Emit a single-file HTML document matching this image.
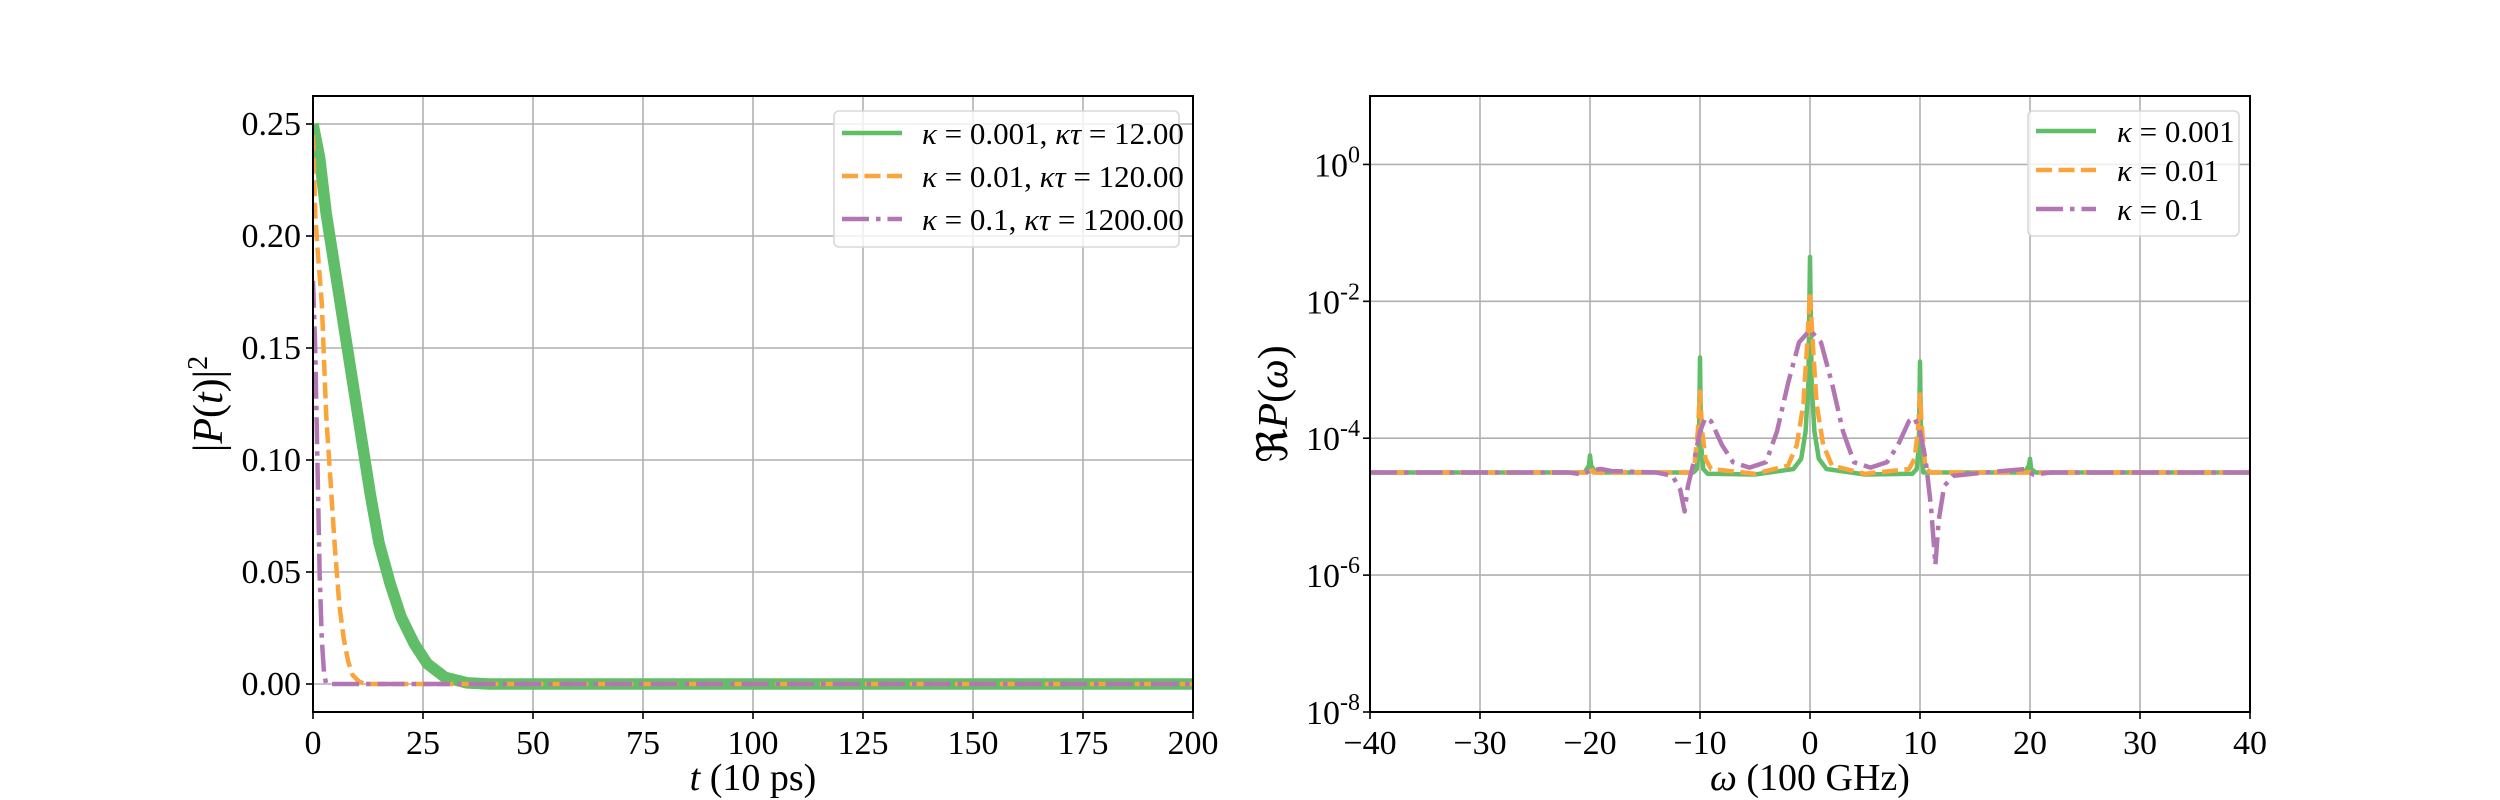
<!DOCTYPE html>
<html><head><meta charset="utf-8"><style>
html,body{margin:0;padding:0;background:#fff;}
svg{display:block;font-family:"Liberation Serif","DejaVu Serif",serif;}
</style></head><body>
<svg id="fig" width="2500" height="800" viewBox="0 0 2500 800" xmlns="http://www.w3.org/2000/svg"></svg>
<script>
// ---- Left chart data ----
const tTicks = [0,25,50,75,100,125,150,175,200];
const pTicks = [0.00,0.05,0.10,0.15,0.20,0.25];
const pTickLabels = ["0.00","0.05","0.10","0.15","0.20","0.25"];
const greenT = [0,1.5,3,5,7,9,11,13,15,17.5,20,23,26,30,35,40,200];
const greenP = [0.25,0.235,0.21,0.185,0.16,0.135,0.11,0.085,0.063,0.045,0.03,0.018,0.009,0.003,0.0005,0,0];
const orangeT = [0,0.5,1,2,3,4,5,6,7,8,9,10.5,12,200];
const orangeP = [0.245,0.21,0.195,0.17,0.12,0.09,0.06,0.035,0.02,0.01,0.004,0.001,0,0];
const purpleT = [0,0.5,1,1.5,2,2.5,3,200];
const purpleP = [0.18,0.15,0.1,0.05,0.02,0.005,0,0];
const leftLegend = ["0.001","0.01","0.1"];
const leftLegendTau = ["12.00","120.00","1200.00"];
// ---- Right chart data (log10 values) ----
const wTicks = [-40,-30,-20,-10,0,10,20,30,40];
const logTicks = [0,-2,-4,-6,-8];
const greenW = [-40,-20.5,-20.1,-20,-19.9,-19.5,-10.6,-10.3,-10.1,-10,-9.9,-9.7,-9.3,-5,-1.5,-0.8,-0.4,-0.15,0,0.15,0.4,0.8,1.5,5,9.3,9.7,9.9,10,10.1,10.3,19.5,19.9,20,20.1,20.5,40];
const greenL = [-4.5,-4.5,-4.4,-4.25,-4.4,-4.5,-4.5,-4.45,-4.1,-2.82,-4.1,-4.45,-4.52,-4.53,-4.45,-4.3,-3.9,-3.2,-1.35,-3.2,-3.9,-4.3,-4.45,-4.53,-4.52,-4.45,-4.1,-2.88,-4.1,-4.5,-4.5,-4.4,-4.3,-4.45,-4.5,-4.5];
const orangeW = [-40,-20.3,-20,-19.7,-10.8,-10.5,-10.2,-10,-9.8,-9.5,-9,-5,-2,-1.2,-0.6,-0.25,0,0.25,0.6,1.2,2,5,9,9.5,9.8,10,10.2,10.5,11,40];
const orangeL = [-4.5,-4.5,-4.42,-4.5,-4.5,-4.4,-3.9,-3.32,-3.9,-4.3,-4.45,-4.52,-4.4,-4.1,-3.5,-2.6,-1.88,-2.6,-3.5,-4.1,-4.4,-4.52,-4.45,-4.3,-3.9,-3.36,-3.9,-4.45,-4.5,-4.5];
const purpleW = [-40,-22,-20.6,-20,-19,-18,-14,-12.5,-11.8,-11.4,-11.1,-10.5,-10,-9.5,-9,-8,-7,-5.5,-4,-3,-2,-1,0,1,2,3,4,5.5,7,8,9,9.5,10,10.5,11,11.4,11.7,12.2,13,16,19.5,20.3,22,40];
const purpleL = [-4.5,-4.5,-4.53,-4.47,-4.45,-4.48,-4.5,-4.55,-4.75,-5.07,-4.7,-4.3,-3.9,-3.7,-3.75,-4.1,-4.35,-4.43,-4.35,-3.9,-3.2,-2.6,-2.42,-2.6,-3.2,-3.9,-4.35,-4.43,-4.35,-4.1,-3.75,-3.7,-3.9,-4.3,-5.0,-5.85,-5.2,-4.7,-4.55,-4.5,-4.45,-4.53,-4.5,-4.5];
const rightLegend = ["0.001","0.01","0.1"];

const NS = "http://www.w3.org/2000/svg";
const svg = document.getElementById('fig');
function mk(tag, attrs, parent){const e=document.createElementNS(NS,tag);for(const k in attrs)e.setAttribute(k,attrs[k]);(parent||svg).appendChild(e);return e;}
const COL = {g:"#60bd68", o:"#faa43a", p:"#b276b2"};
const LW = 4.5;
const DASH = {g:"none", o:"16 6.5", p:"27 7 4.5 7"};

const L = {x0:313, x1:1193, y0:96, y1:712};
const lx = t => L.x0 + (t-0)/(200-0)*(L.x1-L.x0);
const ly = v => L.y1 - (v-(-0.0125))/(0.2625-(-0.0125))*(L.y1-L.y0);
const R = {x0:1370, x1:2250, y0:96, y1:712};
const rx = w => R.x0 + (w+40)/80*(R.x1-R.x0);
const ry = l => R.y1 - (l-(-8))/(1-(-8))*(R.y1-R.y0);

function grid(ax, xs, ys, fx, fy, name){
  const g = mk('g',{});
  
  
  xs.forEach(v=>{mk('line',{x1:fx(v),x2:fx(v),y1:ax.y0,y2:ax.y1,stroke:"#b0b0b0","stroke-width":1.6},g);});
  ys.forEach(v=>{mk('line',{x1:ax.x0,x2:ax.x1,y1:fy(v),y2:fy(v),stroke:"#b0b0b0","stroke-width":1.6},g);});
}
grid(L,tTicks,pTicks,lx,ly,'left-grid');
grid(R,wTicks,logTicks,rx,ry,'right-grid');

function clip(id, ax){const c=mk('clipPath',{id:id});mk('rect',{x:ax.x0,y:ax.y0,width:ax.x1-ax.x0,height:ax.y1-ax.y0},c);}
clip('cl',L); clip('cr',R);

function series(xs, ys, fx, fy, key, name, clipId, extraW){
  const d = xs.map((x,i)=>(i?'L':'M')+fx(x).toFixed(2)+' '+fy(ys[i]).toFixed(2)).join(' ');
  const p = mk('path',{d:d,fill:"none",stroke:COL[key],"stroke-width":LW+(extraW||0),"stroke-dasharray":DASH[key],"stroke-linejoin":"round","clip-path":"url(#"+clipId+")"});
  
  
}
series(greenT,greenP,lx,ly,'g','line-kappa-0001-left','cl',7);
series(orangeT,orangeP,lx,ly,'o','line-kappa-001-left','cl');
series(purpleT,purpleP,lx,ly,'p','line-kappa-01-left','cl');
series(greenW,greenL,rx,ry,'g','line-kappa-0001-right','cr');
series(orangeW,orangeL,rx,ry,'o','line-kappa-001-right','cr');
series(purpleW,purpleL,rx,ry,'p','line-kappa-01-right','cr');

[[L,'left-axes-frame'],[R,'right-axes-frame']].forEach(([a,n])=>{
  const r=mk('rect',{x:a.x0,y:a.y0,width:a.x1-a.x0,height:a.y1-a.y0,fill:"none",stroke:"#000","stroke-width":2});
  
  
});

const FS = 34;
tTicks.forEach(v=>{
  mk('line',{x1:lx(v),x2:lx(v),y1:L.y1,y2:L.y1+7,stroke:"#000","stroke-width":1.6});
  const t=mk('text',{x:lx(v),y:L.y1+42,"font-size":FS,"text-anchor":"middle"});t.textContent=v;
  
  
});
pTicks.forEach((v,i)=>{
  mk('line',{x1:L.x0-7,x2:L.x0,y1:ly(v),y2:ly(v),stroke:"#000","stroke-width":1.6});
  const t=mk('text',{x:L.x0-12,y:ly(v)+11,"font-size":FS,"text-anchor":"end"});t.textContent=pTickLabels[i];
  
  
});
wTicks.forEach(v=>{
  mk('line',{x1:rx(v),x2:rx(v),y1:R.y1,y2:R.y1+7,stroke:"#000","stroke-width":1.6});
  const t=mk('text',{x:rx(v),y:R.y1+42,"font-size":FS,"text-anchor":"middle"});t.textContent=(v<0?'\u2212'+(-v):v);
  
  
});
logTicks.forEach(v=>{
  mk('line',{x1:R.x0-7,x2:R.x0,y1:ry(v),y2:ry(v),stroke:"#000","stroke-width":1.6});
  const t=mk('text',{x:R.x0-10,y:ry(v)+12,"font-size":FS,"text-anchor":"end"});
  
  
  const a=document.createElementNS(NS,'tspan');a.textContent='10';t.appendChild(a);
  const b=document.createElementNS(NS,'tspan');b.setAttribute('dy','-14');b.setAttribute('font-size','24');b.textContent=(v===0?'0':'-'+(-v));t.appendChild(b);
});

function txt(x,y,fs,name,rot,html){
  const t=mk('text',{x:x,y:y,"font-size":fs,"text-anchor":"middle"});
  if(rot) t.setAttribute('transform','rotate(-90 '+x+' '+y+')');
  t.innerHTML=html;
  
  
  return t;
}
txt(753,790,'38','x-axis-title-left',false,'<tspan font-style="italic">t</tspan> (10 ps)');
txt(222,404,'42','y-axis-title-left',true,'|<tspan font-style="italic">P</tspan>(<tspan font-style="italic">t</tspan>)|<tspan dy="-15" font-size="28">2</tspan>');
txt(1810,790,'38','x-axis-title-right',false,'<tspan font-style="italic">ω</tspan> (100 GHz)');
txt(1287,404,'42','y-axis-title-right',true,'ℜ<tspan font-style="italic">P</tspan>(<tspan font-style="italic">ω</tspan>)');

function legend(bx,by,bw,bh,ys,hx,tx,labels,name){
  const g=mk('g',{});
  
  
  mk('rect',{x:bx,y:by,width:bw,height:bh,rx:5,fill:"#fff","fill-opacity":0.8,stroke:"#d8d8d8","stroke-width":1.6},g);
  ['g','o','p'].forEach((k,i)=>{
    mk('line',{x1:hx,x2:hx+60,y1:ys[i],y2:ys[i],stroke:COL[k],"stroke-width":LW,"stroke-dasharray":DASH[k]},g);
    const t=mk('text',{x:tx,y:ys[i]+11,"font-size":31},g);
    t.innerHTML=labels[i];
    
    
  });
}
legend(834,111,345,136,[133,176,219],842,922,
  leftLegend.map((k,i)=>'<tspan font-style="italic">κ</tspan> = '+k+', <tspan font-style="italic">κτ</tspan> = '+leftLegendTau[i]),'left-legend');
legend(2028,111,211,125,[131,170,209],2036,2117,
  rightLegend.map(k=>'<tspan font-style="italic">κ</tspan> = '+k),'right-legend');
</script>
</body></html>
